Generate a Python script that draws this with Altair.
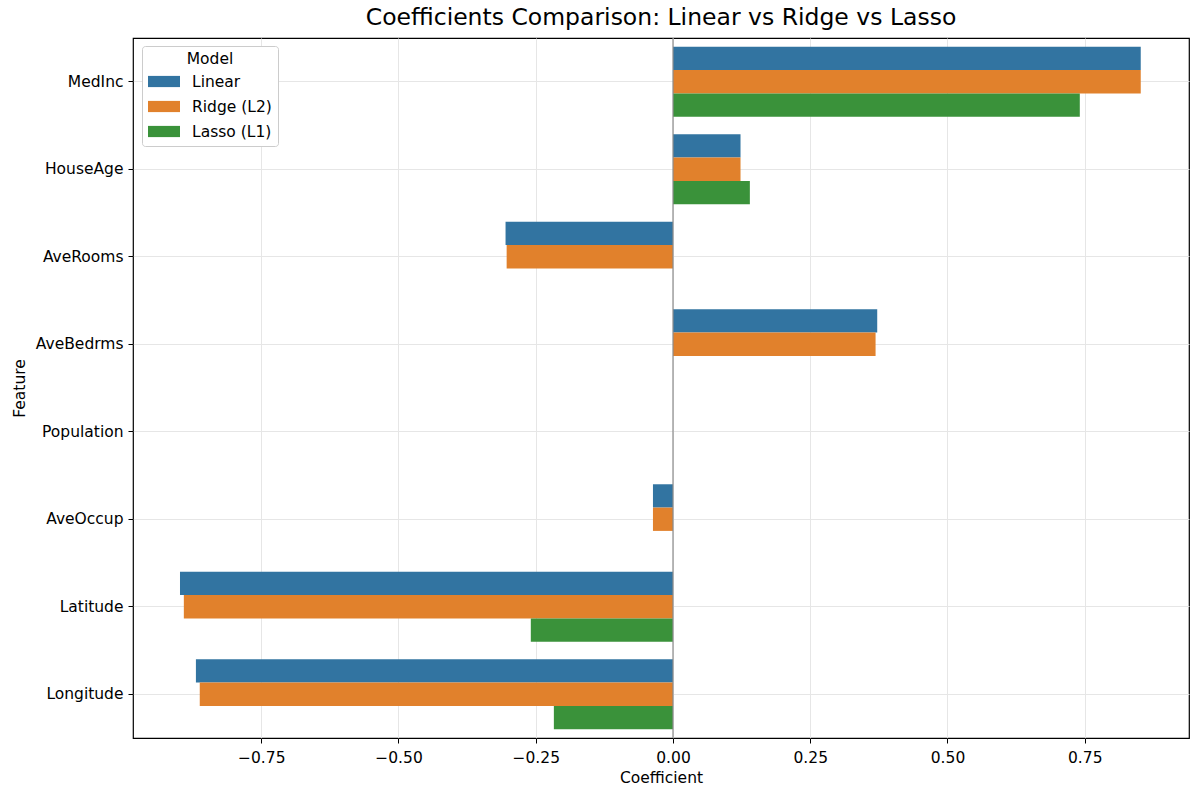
import altair as alt
import pandas as pd

features = ["MedInc", "HouseAge", "AveRooms", "AveBedrms", "Population", "AveOccup", "Latitude", "Longitude"]
models = ["Linear", "Ridge (L2)", "Lasso (L1)"]
linear = [0.852, 0.123, -0.305, 0.372, -0.000004, -0.0365, -0.898, -0.869]
ridge = [0.852, 0.123, -0.303, 0.369, -0.000004, -0.0365, -0.891, -0.862]
lasso = [0.741, 0.140, 0.0, 0.0, 0.0, 0.0, -0.259, -0.217]
colors = ["#3274a1", "#e1812c", "#3a923a"]
x_ticks = [-0.75, -0.5, -0.25, 0.0, 0.25, 0.5, 0.75]

rows = []
for m, vals in zip(models, [linear, ridge, lasso]):
    for f, v in zip(features, vals):
        rows.append({"Feature": f, "Model": m, "Coefficient": v})
df = pd.DataFrame(rows)

FONT = "DejaVu Sans"
FS = 15.5

xscale = alt.Scale(domain=[-0.9836, 0.9399], nice=False, zero=False)

bars = alt.Chart(df).mark_bar(size=23.3).encode(
    x=alt.X("Coefficient:Q", scale=xscale,
            axis=alt.Axis(values=x_ticks, format=".2f", title="Coefficient",
                          grid=True, gridColor="#e6e6e6", tickColor="black",
                          tickSize=5, labelFontSize=FS, titleFontSize=FS,
                          labelColor="black", titleColor="black", titleFontWeight="normal",
                          labelPadding=7, titlePadding=5, domain=False)),
    y=alt.Y("Feature:N", sort=features,
            scale=alt.Scale(paddingInner=0.2, paddingOuter=0.1),
            axis=alt.Axis(title="Feature", grid=True, gridColor="#e6e6e6",
                          bandPosition=0.5, tickColor="black", tickSize=5,
                          labelFontSize=FS, titleFontSize=FS, labelColor="black",
                          titleColor="black", titleFontWeight="normal",
                          labelPadding=5, titlePadding=8, domain=False)),
    yOffset=alt.YOffset("Model:N", sort=models, scale=alt.Scale(paddingInner=0, paddingOuter=0)),
    color=alt.Color("Model:N", sort=models,
                    scale=alt.Scale(domain=models, range=colors),
                    legend=alt.Legend(title="Model", orient="none", legendX=9, legendY=8,
                                      symbolType="M-1,-0.7H3V0.7H-1Z", symbolSize=256,
                                      symbolStrokeWidth=0, titleFontWeight="normal",
                                      titleFontSize=FS, labelFontSize=FS,
                                      titleAnchor="middle", titleColor="black",
                                      labelColor="black", fillColor="white",
                                      strokeColor="#cccccc", padding=6, cornerRadius=3,
                                      rowPadding=8, labelOffset=28, titlePadding=6)),
)

zero = alt.Chart(pd.DataFrame({"z": [0.0]})).mark_rule(color="#8c8c8c", strokeWidth=1.2).encode(
    x=alt.X("z:Q", scale=xscale)
)

chart = alt.layer(bars, zero).properties(
    width=1056, height=700,
    title=alt.TitleParams("Coefficients Comparison: Linear vs Ridge vs Lasso",
                          fontSize=23.5, font=FONT, fontWeight="normal", color="black",
                          anchor="middle", offset=8),
    autosize=alt.AutoSizeParams(type="none"),
    padding={"left": 133, "top": 38, "right": 11, "bottom": 60},
).configure(font=FONT).configure_view(stroke="black", strokeWidth=1.2).configure_axis(
    labelFont=FONT, titleFont=FONT
).configure_legend(labelFont=FONT, titleFont=FONT)

chart.save("out.html", embed_options={"renderer": "svg", "actions": False})
